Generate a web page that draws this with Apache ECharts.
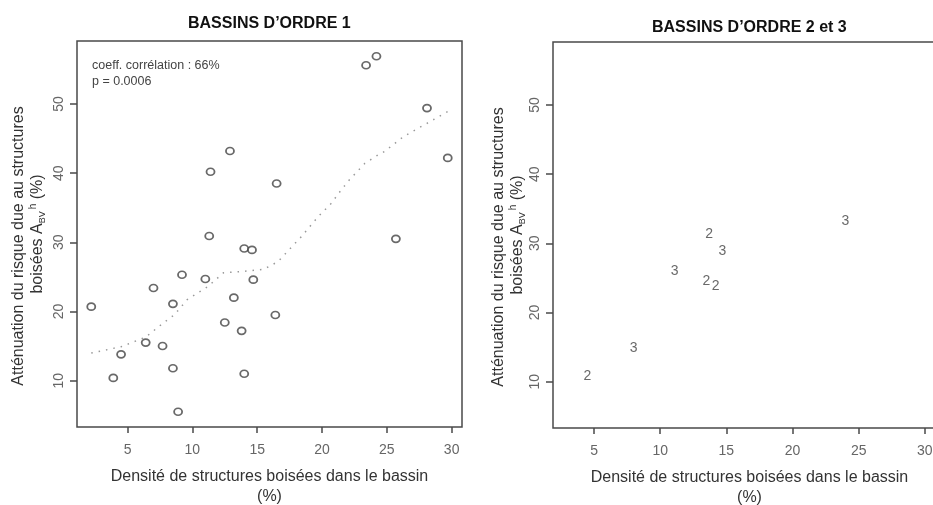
<!DOCTYPE html>
<html>
<head>
<meta charset="utf-8">
<script src="https://cdn.jsdelivr.net/npm/echarts@6/dist/echarts.min.js"></script>
<style>
  html, body { margin: 0; padding: 0; background: #fff; }
  #chart { width: 933px; height: 505px; }
</style>
</head>
<body>
<div id="chart"></div>
<script>
// ticks
const xTicks = [5, 10, 15, 20, 25, 30]
const yTicks = [10, 20, 30, 40, 50]

// bassins d'ordre 1 : [densité, atténuation]
const ordre1 = [
    [23.4, 55.6], [24.2, 56.9], [28.1, 49.4], [29.7, 42.2],
    [11.4, 40.2], [12.9, 43.2], [16.5, 38.5], [11.3, 30.9],
    [25.7, 30.5], [14.0, 29.1], [14.6, 28.9], [9.2, 25.3],
    [11.0, 24.7], [7.0, 23.4], [14.7, 24.6], [13.2, 22.0],
    [8.5, 21.1], [2.2, 20.7], [16.4, 19.5], [12.5, 18.4],
    [13.8, 17.2], [6.4, 15.5], [7.7, 15.0], [4.5, 13.8],
    [8.5, 11.8], [3.9, 10.4], [14.0, 11.0], [8.9, 5.5]
]

// courbe lissée (lowess)
const lissage = [
    [2.2, 14.0], [4.5, 14.9], [6.4, 16.3], [7.8, 18.4], [8.6, 19.5],
    [9.6, 21.7], [11.2, 23.6], [12.4, 25.6], [14.0, 25.8], [15.5, 26.1],
    [16.6, 27.2], [17.7, 29.4], [18.4, 30.8], [19.7, 33.7], [20.7, 35.6],
    [21.5, 37.6], [22.1, 39.0], [23.3, 41.4], [24.3, 42.6], [24.8, 43.1],
    [26.3, 45.3], [28.1, 47.2], [29.5, 48.7], [29.7, 48.9]
]

// bassins d'ordre 2 et 3 : [densité, atténuation, ordre]
const ordre23 = [
    [24.0, 33.2, '3'], [13.7, 31.3, '2'], [14.7, 28.9, '3'],
    [11.1, 26.0, '3'], [13.5, 24.6, '2'], [14.2, 23.8, '2'],
    [8.0, 14.9, '3'], [4.5, 10.8, '2']
]

const xTitle = 'Densité de structures boisées dans le bassin\n(%)'
const yTitle = '{l1|Atténuation du risque due au structures}\nboisées A{sub|BV}{sup|h} (%)'

const font = 'Arial, "Liberation Sans", Helvetica, sans-serif'
const boxColor = '#4a4a4a'

function xAxisOpt(gridIndex, min, max) {
    return {
        type: 'value', gridIndex: gridIndex, min: min, max: max,
        splitLine: { show: false },
        axisLine: { show: false },
        axisTick: { show: true, length: 6, customValues: xTicks,
            lineStyle: { color: boxColor, width: 1.5 } },
        axisLabel: { customValues: xTicks, margin: 16, color: '#666',
            fontSize: 14, fontFamily: font },
        name: xTitle, nameLocation: 'middle', nameGap: 40,
        nameTextStyle: { fontSize: 16, color: '#333', lineHeight: 20, fontFamily: font }
    }
}

function yAxisOpt(gridIndex, gap) {
    return {
        type: 'value', gridIndex: gridIndex, min: 3.3, max: 59.1,
        splitLine: { show: false },
        axisLine: { show: false },
        axisTick: { show: true, length: 7, customValues: yTicks,
            lineStyle: { color: boxColor, width: 1.5 } },
        axisLabel: { customValues: yTicks, rotate: 90, margin: 11, color: '#666',
            fontSize: 14, fontFamily: font },
        name: yTitle, nameLocation: 'middle', nameGap: gap,
        nameTextStyle: {
            fontSize: 16, color: '#333', lineHeight: 19, fontFamily: font,
            rich: {
                l1: { fontSize: 16, color: '#333', fontFamily: font, lineHeight: 19, padding: [0, 24, 0, 0] },
                sub: { fontSize: 9, verticalAlign: 'bottom', color: '#333', fontFamily: font, lineHeight: 19 },
                sup: { fontSize: 10, verticalAlign: 'top', color: '#333', fontFamily: font, lineHeight: 19, padding: [0, 0, 0, 2] }
            }
        }
    }
}

const chart = echarts.init(document.getElementById('chart'))

chart.setOption({
    backgroundColor: '#fff',
    animation: false,
    title: [
        { text: 'BASSINS D\u2019ORDRE 1', left: 183, top: 11,
          textStyle: { fontSize: 16, fontWeight: 'bold', color: '#111', fontFamily: font } },
        { text: 'BASSINS D\u2019ORDRE 2 et 3', left: 647, top: 15,
          textStyle: { fontSize: 16, fontWeight: 'bold', color: '#111', fontFamily: font } }
    ],
    grid: [
        { left: 77, top: 41, width: 385, height: 386, show: true, outerBoundsMode: 'none',
          containLabel: false,
          borderColor: boxColor, borderWidth: 1.5, backgroundColor: 'transparent' },
        { left: 553, top: 42, width: 393, height: 386, show: true, outerBoundsMode: 'none',
          containLabel: false,
          borderColor: boxColor, borderWidth: 1.5, backgroundColor: 'transparent' }
    ],
    xAxis: [xAxisOpt(0, 1.1, 30.8), xAxisOpt(1, 1.9, 31.6)],
    yAxis: [yAxisOpt(0, 30), yAxisOpt(1, 26)],
    graphic: [
        { type: 'text', left: 92, top: 58,
          style: { text: 'coeff. corrélation : 66%\np = 0.0006', fill: '#444',
                   font: '12.5px ' + font, lineHeight: 16 } }
    ],
    series: [
        {
            type: 'line', xAxisIndex: 0, yAxisIndex: 0, data: lissage,
            showSymbol: false, smooth: false, silent: true,
            lineStyle: { color: '#999', width: 1.5, type: [1.5, 6] }
        },
        {
            type: 'scatter', xAxisIndex: 0, yAxisIndex: 0, data: ordre1,
            symbol: 'circle', symbolSize: [8, 7],
            itemStyle: { color: '#fff', borderColor: '#444', borderWidth: 1.7 }
        },
        {
            type: 'scatter', xAxisIndex: 1, yAxisIndex: 1, data: ordre23,
            symbol: 'circle', symbolSize: 10,
            itemStyle: { color: 'transparent' },
            label: { show: true, position: 'inside', formatter: p => p.value[2],
                     color: '#444', fontSize: 14, fontFamily: font }
        }
    ]
})
</script>
</body>
</html>
